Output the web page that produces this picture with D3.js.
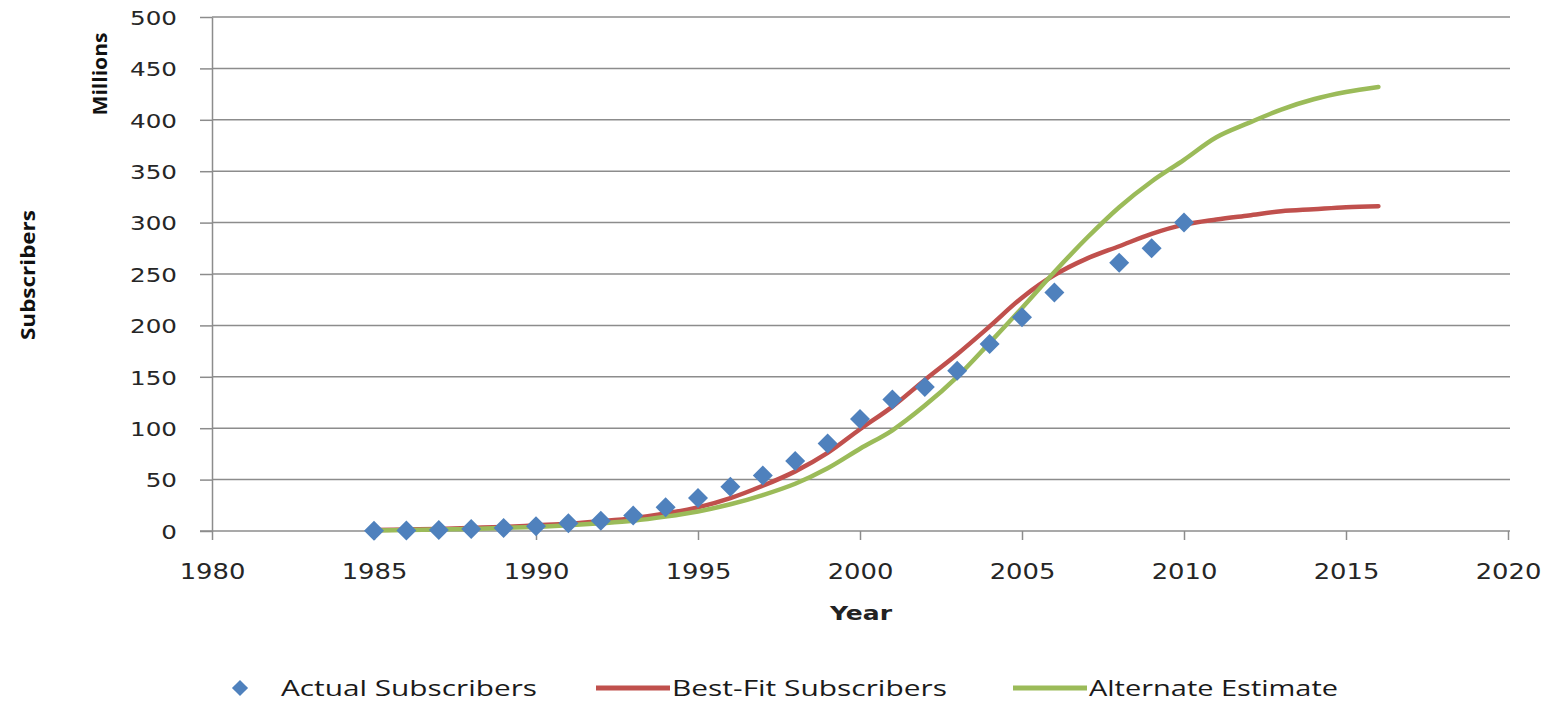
<!DOCTYPE html>
<html>
<head>
<meta charset="utf-8">
<script src="https://cdn.jsdelivr.net/npm/d3@7"></script>
<style>
  html, body { margin: 0; padding: 0; background: #fff; }
  svg { display: block; }
</style>
</head>
<body>
<svg id="chart" width="1557" height="702"></svg>
<script>
// Subscriber counts, in millions
const actualYears = [1985,1986,1987,1988,1989,1990,1991,1992,1993,1994,1995,1996,1997,1998,1999,2000,2001,2002,2003,2004,2005,2006,2008,2009,2010];
const actualValues = [0.3,0.5,1,2,3,4.5,7.5,10,15,23,32,43,54,68,85,109,128,140,156,182,208,232,261,275,300];

const fitYears = [1985,1986,1987,1988,1989,1990,1991,1992,1993,1994,1995,1996,1997,1998,1999,2000,2001,2002,2003,2004,2005,2006,2007,2008,2009,2010,2011,2012,2013,2014,2015,2016];
const bestFitValues = [1,1.5,2,3,4,5.5,7,9.5,12.5,17,23,32,44,58,76,99,121,147,172,199,227,249,265,277,289,298,303,307,311,313,315,316];
const alternateValues = [0.5,1,1.5,2,3,4,5.5,7.5,10,14,19,26,35,46,61,80,98,122,150,183,217,252,285,315,340,361,383,397,410,420,427,432];

const xTicks = [1980,1985,1990,1995,2000,2005,2010,2015,2020];
const yTicks = [0,50,100,150,200,250,300,350,400,450,500];

const seriesNames = ["Actual Subscribers", "Best-Fit Subscribers", "Alternate Estimate"];
const colors = { actual: "#4F81BD", fit: "#C0504D", alt: "#9BBB59" };

const svg = d3.select("#chart");
const x = d3.scaleLinear().domain([1980, 2020]).range([212, 1508]);
const y = d3.scaleLinear().domain([0, 500]).range([531, 17]);
const stretch = 1.23;

// horizontal gridlines
svg.append("g").selectAll("line").data(yTicks.filter(d => d > 0)).join("line")
  .attr("x1", x(1980)).attr("x2", x(2020) + 2)
  .attr("y1", d => y(d)).attr("y2", d => y(d))
  .attr("stroke", "#8c8c8c").attr("stroke-width", 1.5);

// y axis
const yAxis = svg.append("g").attr("transform", `translate(${x(1980)},0)`)
  .call(d3.axisLeft(y).tickValues(yTicks).tickSize(12).tickSizeOuter(0));
yAxis.select(".domain").attr("stroke", "#8c8c8c").attr("stroke-width", 1.5);
yAxis.selectAll(".tick line").attr("stroke", "#8c8c8c").attr("stroke-width", 1.5);
yAxis.selectAll(".tick text")
  .attr("x", -35 / stretch).attr("dy", "0.36em")
  .attr("transform", `scale(${stretch},1)`)
  .style("font-family", "'DejaVu Sans', Verdana, sans-serif")
  .style("font-size", "20px").attr("fill", "#262626");

// x axis
const xAxis = svg.append("g").attr("transform", `translate(0,${y(0)})`)
  .call(d3.axisBottom(x).tickValues(xTicks).tickFormat(d3.format("d")).tickSize(9).tickSizeOuter(0));
xAxis.select(".domain").attr("stroke", "#8c8c8c").attr("stroke-width", 1.5)
  .attr("d", `M${x(1980) - 12},0H${x(2020) + 2}`);
xAxis.selectAll(".tick line").attr("stroke", "#8c8c8c").attr("stroke-width", 1.5);
xAxis.selectAll(".tick text")
  .attr("y", 48).attr("dy", 0)
  .attr("transform", `scale(${stretch},1)`)
  .style("font-family", "'DejaVu Sans', Verdana, sans-serif")
  .style("font-size", "21px").attr("fill", "#262626");

// series lines
const line = d3.line()
  .x((d, i) => x(fitYears[i]))
  .y(d => y(d))
  .curve(d3.curveCatmullRom.alpha(0.5));

svg.append("path").datum(bestFitValues)
  .attr("d", line).attr("fill", "none")
  .attr("stroke", colors.fit).attr("stroke-width", 4.5).attr("stroke-linecap", "round");
svg.append("path").datum(alternateValues)
  .attr("d", line).attr("fill", "none")
  .attr("stroke", colors.alt).attr("stroke-width", 4.5).attr("stroke-linecap", "round");

// actual subscriber markers (diamonds)
const diamond = d3.symbol().type(d3.symbolSquare).size(200);
svg.append("g").selectAll("path").data(actualValues).join("path")
  .attr("d", diamond)
  .attr("transform", (d, i) => `translate(${x(actualYears[i])},${y(d)}) rotate(45)`)
  .attr("fill", colors.actual);

// axis titles
svg.append("text")
  .attr("transform", "translate(107,74) rotate(-90)")
  .attr("text-anchor", "middle")
  .attr("textLength", 83).attr("lengthAdjust", "spacingAndGlyphs")
  .style("font-family", "'Open Sans', 'Noto Sans', sans-serif")
  .style("font-weight", "bold").style("font-size", "20px").attr("fill", "#111")
  .text("Millions");

svg.append("text")
  .attr("transform", "translate(35,275) rotate(-90)")
  .attr("text-anchor", "middle")
  .attr("textLength", 130).attr("lengthAdjust", "spacingAndGlyphs")
  .style("font-family", "'Open Sans', 'Noto Sans', sans-serif")
  .style("font-weight", "bold").style("font-size", "20px").attr("fill", "#111")
  .text("Subscribers");

svg.append("text")
  .attr("x", 830).attr("y", 620)
  .attr("textLength", 62).attr("lengthAdjust", "spacingAndGlyphs")
  .style("font-family", "'DejaVu Sans', Verdana, sans-serif")
  .style("font-weight", "bold").style("font-size", "20px").attr("fill", "#222")
  .text("Year");

// legend
const legendY = 688;
const legendFont = "'Open Sans', 'Noto Sans', sans-serif";
const legend = svg.append("g");
legend.append("path").attr("d", d3.symbol().type(d3.symbolSquare).size(130))
  .attr("transform", `translate(240,${legendY}) rotate(45)`).attr("fill", colors.actual);
legend.append("line").attr("x1", 596).attr("x2", 670).attr("y1", legendY).attr("y2", legendY)
  .attr("stroke", colors.fit).attr("stroke-width", 5);
legend.append("line").attr("x1", 1013).attr("x2", 1087).attr("y1", legendY).attr("y2", legendY)
  .attr("stroke", colors.alt).attr("stroke-width", 5);

const legendTexts = [
  { name: seriesNames[0], x: 281, w: 256 },
  { name: seriesNames[1], x: 672, w: 275 },
  { name: seriesNames[2], x: 1089, w: 249 }
];
legend.selectAll("text").data(legendTexts).join("text")
  .attr("x", d => d.x).attr("y", 696)
  .attr("textLength", d => d.w).attr("lengthAdjust", "spacingAndGlyphs")
  .style("font-family", legendFont).style("font-size", "21px").attr("fill", "#1a1a1a")
  .text(d => d.name);
</script>
</body>
</html>
